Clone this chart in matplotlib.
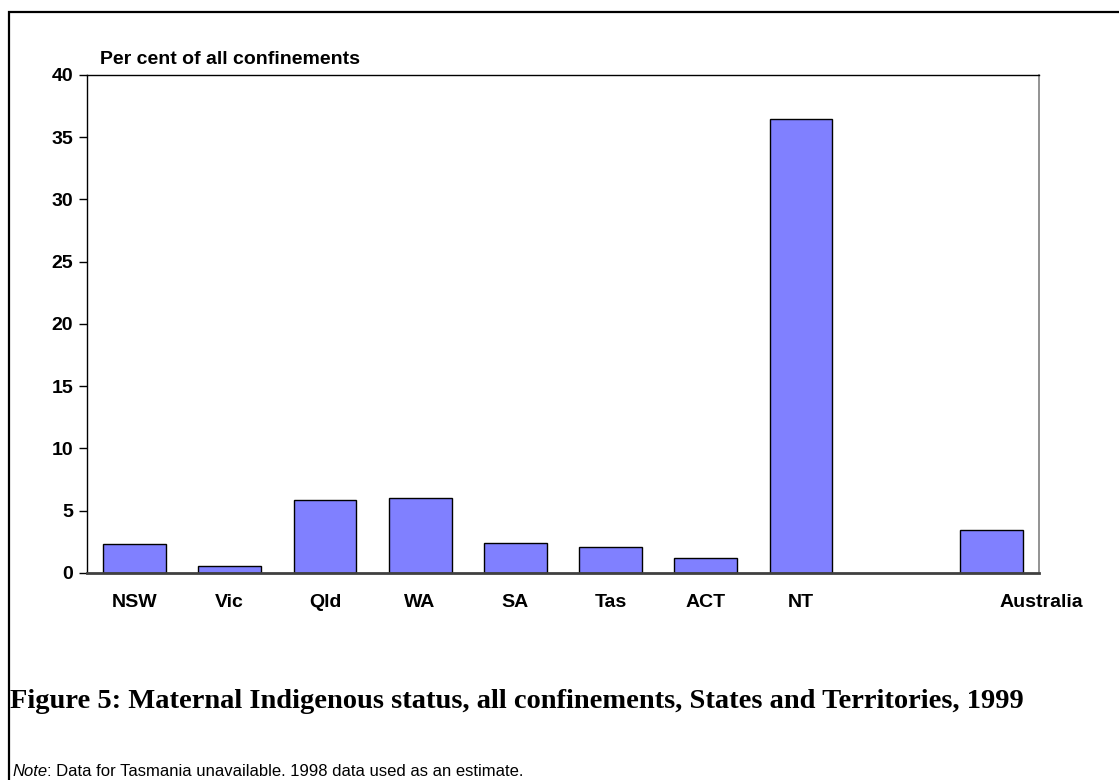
import matplotlib
matplotlib.use("Agg")
import matplotlib.pyplot as plt
from matplotlib.patches import Rectangle
import matplotlib.transforms as mtransforms

# values (per cent of all confinements)
states = ["NSW", "Vic", "Qld", "WA", "SA", "Tas", "ACT", "NT", "", "Australia"]
indigenous_pct = [2.3, 0.6, 5.85, 6.0, 2.4, 2.05, 1.2, 36.45, None, 3.45]
y_ticks = [0, 5, 10, 15, 20, 25, 30, 35, 40]

BAR_COLOR = "#8080FF"

plt.rcParams["font.family"] = ["Liberation Sans", "DejaVu Sans"]

fig = plt.figure(figsize=(11.19, 7.80), dpi=100)
ax = fig.add_axes([0.0777, 0.2654, 0.8508, 0.6385])

xs = [i for i, v in enumerate(states) if indigenous_pct[i] is not None]
vals = [indigenous_pct[i] for i in xs]
ax.bar(xs, vals, width=0.66, color=BAR_COLOR, edgecolor="black", linewidth=1.0)

ax.set_xlim(-0.5, len(states) - 0.5)
ax.set_ylim(0, 40)
ax.set_yticks(y_ticks)
ax.set_yticklabels([str(t) for t in y_ticks], fontsize=14, fontweight="bold")
ax.set_xticks(range(len(states)))
ax.set_xticklabels(states, fontsize=14, fontweight="bold")
ax.tick_params(axis="x", length=0, pad=15)
ax.tick_params(axis="y", length=6, width=1, direction="out", pad=4)

# the Australia label sits right of its bar in the original
lab = ax.get_xticklabels()[-1]
lab.set_transform(lab.get_transform() + mtransforms.ScaledTranslation(0.5, 0, fig.dpi_scale_trans))

ax.spines["left"].set_color("black")
ax.spines["left"].set_linewidth(1.0)
ax.spines["top"].set_color("black")
ax.spines["top"].set_linewidth(1.0)
ax.spines["right"].set_color("#808080")
ax.spines["right"].set_linewidth(1.2)
ax.spines["bottom"].set_color("#404040")
ax.spines["bottom"].set_linewidth(2.0)

fig.text(100 / 1119, 1 - 64 / 780, "Per cent of all confinements",
         fontsize=14, fontweight="bold", ha="left", va="baseline")

fig.text(10 / 1119, 1 - 708 / 780,
         "Figure 5: Maternal Indigenous status, all confinements, States and Territories, 1999",
         family=["Liberation Serif", "DejaVu Serif"], fontsize=20.5, fontweight="bold",
         ha="left", va="baseline")

note = fig.text(12 / 1119, 1 - 776 / 780, "Note", fontsize=12, style="italic",
                ha="left", va="baseline")
ax.annotate(": Data for Tasmania unavailable. 1998 data used as an estimate.",
            xy=(1, 0), xycoords=note, fontsize=12, ha="left", va="bottom",
            annotation_clip=False)

# outer frame around the figure
fig.patches.append(Rectangle((9 / 1119, -0.05), 1.2, 1 - 12 / 780 + 0.05,
                             transform=fig.transFigure, fill=False,
                             edgecolor="black", linewidth=1.6))

fig.savefig("out.png", dpi=100)
